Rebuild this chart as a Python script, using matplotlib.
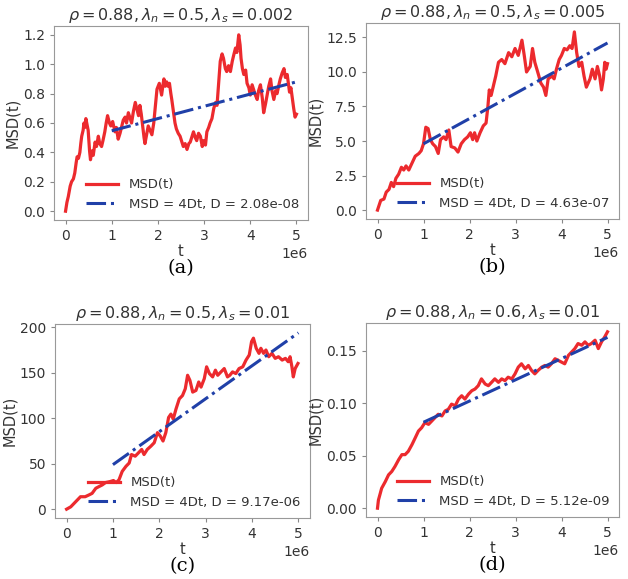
import matplotlib
matplotlib.use("Agg")
import matplotlib.pyplot as plt
from matplotlib.ticker import MultipleLocator

# Time axis in units of 1e6 steps, MSD values
t_a = [0, 0.03, 0.06, 0.10, 0.13, 0.17, 0.20, 0.23, 0.25, 0.28,
       0.31, 0.33, 0.35, 0.38, 0.40, 0.42, 0.44, 0.47, 0.49, 0.52,
       0.54, 0.57, 0.60, 0.64, 0.67, 0.71, 0.74, 0.78, 0.81, 0.85,
       0.88, 0.91, 0.95, 0.98, 1.02, 1.07, 1.10, 1.14, 1.18, 1.22,
       1.25, 1.29, 1.32, 1.36, 1.40, 1.43, 1.47, 1.51, 1.55, 1.58,
       1.61, 1.64, 1.67, 1.70, 1.72, 1.76, 1.79, 1.83, 1.87, 1.91,
       1.94, 1.98, 2.03, 2.06, 2.08, 2.11, 2.13, 2.16, 2.19, 2.22,
       2.25, 2.28, 2.30, 2.34, 2.37, 2.40, 2.44, 2.48, 2.52, 2.55,
       2.59, 2.63, 2.67, 2.70, 2.74, 2.77, 2.81, 2.84, 2.88, 2.92,
       2.96, 2.99, 3.03, 3.06, 3.10, 3.13, 3.17, 3.21, 3.25, 3.28,
       3.31, 3.35, 3.39, 3.42, 3.46, 3.49, 3.53, 3.57, 3.61, 3.64,
       3.68, 3.71, 3.75, 3.78, 3.80, 3.83, 3.86, 3.90, 3.93, 3.97,
       4.00, 4.04, 4.07, 4.11, 4.15, 4.18, 4.22, 4.26, 4.29, 4.33,
       4.36, 4.40, 4.44, 4.47, 4.51, 4.55, 4.58, 4.62, 4.65, 4.69,
       4.73, 4.76, 4.80, 4.83, 4.85, 4.88, 4.91, 4.94, 4.97, 5.00]
msd_a = [0, 0.06, 0.10, 0.17, 0.20, 0.22, 0.26, 0.33, 0.37, 0.36,
         0.40, 0.46, 0.51, 0.55, 0.60, 0.57, 0.63, 0.58, 0.55, 0.41,
         0.35, 0.41, 0.38, 0.47, 0.44, 0.51, 0.46, 0.44, 0.48, 0.54,
         0.60, 0.65, 0.60, 0.58, 0.61, 0.54, 0.57, 0.49, 0.53, 0.58,
         0.62, 0.64, 0.60, 0.67, 0.63, 0.60, 0.68, 0.74, 0.69, 0.65,
         0.72, 0.66, 0.58, 0.50, 0.46, 0.53, 0.58, 0.55, 0.52, 0.60,
         0.70, 0.83, 0.87, 0.82, 0.79, 0.86, 0.90, 0.85, 0.88, 0.85,
         0.87, 0.80, 0.76, 0.67, 0.60, 0.56, 0.53, 0.51, 0.47, 0.44,
         0.46, 0.42, 0.46, 0.47, 0.51, 0.54, 0.50, 0.48, 0.53, 0.51,
         0.44, 0.48, 0.45, 0.54, 0.57, 0.60, 0.63, 0.70, 0.74, 0.72,
         0.85, 1.02, 1.07, 1.04, 0.97, 0.95, 0.99, 0.95, 1.02, 1.06,
         1.11, 1.08, 1.20, 1.13, 1.04, 0.97, 0.93, 0.96, 0.87, 0.84,
         0.79, 0.86, 0.83, 0.79, 0.76, 0.82, 0.86, 0.77, 0.67, 0.73,
         0.78, 0.85, 0.90, 0.82, 0.76, 0.82, 0.80, 0.86, 0.90, 0.94,
         0.97, 0.91, 0.93, 0.86, 0.81, 0.84, 0.77, 0.70, 0.64, 0.66]

t_b = [0, 0.07, 0.14, 0.19, 0.25, 0.30, 0.35, 0.40, 0.46, 0.52, 0.57, 0.62, 0.68, 0.75, 0.82,
       0.90, 0.95, 1.00, 1.05, 1.10, 1.15, 1.20, 1.26, 1.32, 1.37, 1.44, 1.49, 1.55, 1.60, 1.68,
       1.75, 1.82, 1.89, 1.96, 2.02, 2.07, 2.11, 2.16, 2.23, 2.30, 2.36, 2.40, 2.43, 2.47, 2.52,
       2.57, 2.63, 2.70, 2.77, 2.85, 2.92, 2.99, 3.06, 3.14, 3.19, 3.24, 3.32, 3.37, 3.42, 3.50,
       3.55, 3.61, 3.66, 3.71, 3.79, 3.84, 3.89, 3.95, 4.00, 4.06, 4.12, 4.18, 4.23, 4.28, 4.33,
       4.38, 4.44, 4.49, 4.54, 4.62, 4.67, 4.73, 4.78, 4.83, 4.87, 4.91, 4.94, 4.97, 5.00]
msd_b = [0, 0.7, 0.8, 1.3, 1.5, 2.0, 1.7, 2.3, 2.6, 3.1, 2.9, 3.2, 2.9, 3.4, 3.9,
         4.1, 4.3, 4.8, 6.0, 5.9, 5.1, 4.8, 4.6, 4.1, 5.1, 5.3, 5.1, 5.8, 4.6, 4.5,
         4.2, 4.8, 5.1, 5.3, 5.6, 5.1, 5.6, 5.0, 5.6, 6.1, 6.3, 7.5, 8.7, 8.3, 9.0,
         9.7, 10.7, 10.9, 10.6, 11.4, 11.1, 11.7, 11.2, 12.3, 11.2, 10.0, 10.4, 11.7, 10.7, 9.8,
         9.2, 8.9, 8.3, 9.5, 9.7, 9.5, 10.2, 10.9, 11.2, 11.7, 11.6, 11.9, 11.7, 12.9, 11.4,
         10.4, 10.7, 9.7, 8.9, 9.5, 10.2, 9.5, 10.4, 9.7, 8.7, 9.5, 10.7, 10.2, 10.6]

t_c = [0, 0.09, 0.16, 0.23, 0.30, 0.40, 0.48, 0.55, 0.63, 0.70, 0.77, 0.84, 0.94, 1.01, 1.07,
       1.13, 1.20, 1.28, 1.35, 1.40, 1.48, 1.55, 1.62, 1.67, 1.74, 1.82, 1.89, 1.96, 2.02, 2.08,
       2.14, 2.20, 2.25, 2.30, 2.36, 2.43, 2.50, 2.56, 2.61, 2.66, 2.72, 2.79, 2.85, 2.90, 2.97,
       3.02, 3.08, 3.15, 3.21, 3.26, 3.33, 3.40, 3.47, 3.52, 3.58, 3.65, 3.72, 3.80, 3.87, 3.94,
       3.99, 4.03, 4.09, 4.15, 4.19, 4.25, 4.30, 4.36, 4.43, 4.50, 4.57, 4.65, 4.72, 4.78, 4.82,
       4.86, 4.89, 4.93, 4.99]
msd_c = [0, 2.6, 6.3, 10, 13.7, 13.7, 15.6, 17.4, 23, 24.9, 26.7, 29.3, 30.4, 31.5, 29.3,
         32.3, 41.6, 47.1, 50.8, 60.1, 58.3, 62, 65.7, 60.1, 65.7, 69.4, 73.1, 84.2, 80.5, 75,
         84.2, 100.9, 104.6, 99.1, 110.2, 121.3, 125, 132.5, 147.3, 141.7, 128.8, 130.6, 139.9, 134.3, 143.6,
         156.6, 149.2, 145.5, 152.9, 147.3, 151, 154.7, 145.5, 147.3, 151, 149.2, 154.7, 156.6, 164, 169.6,
         184.4, 188.1, 177, 171.4, 177, 171.4, 175.1, 167.7, 171.4, 165.9, 167.7, 164, 165.9, 162.2, 167.7,
         156.6, 145.5, 154.7, 160.3]

t_d = [0, 0.02, 0.06, 0.09, 0.17, 0.24, 0.31, 0.38, 0.46, 0.53, 0.60, 0.67, 0.75, 0.82, 0.89,
       0.96, 1.03, 1.11, 1.18, 1.25, 1.32, 1.40, 1.47, 1.54, 1.61, 1.69, 1.76, 1.83, 1.90, 1.98,
       2.05, 2.12, 2.19, 2.26, 2.34, 2.41, 2.48, 2.55, 2.63, 2.70, 2.77, 2.84, 2.92, 2.99, 3.06,
       3.13, 3.21, 3.28, 3.35, 3.42, 3.49, 3.57, 3.64, 3.71, 3.78, 3.86, 3.93, 4.00, 4.07, 4.15,
       4.22, 4.29, 4.36, 4.44, 4.51, 4.58, 4.65, 4.73, 4.80, 4.87, 4.94, 5.00]
msd_d = [0, 0.0077, 0.0141, 0.019, 0.0254, 0.0318, 0.035, 0.0398, 0.0463, 0.0511, 0.0511, 0.0543, 0.0607, 0.0671, 0.0736,
         0.0768, 0.0816, 0.080, 0.0832, 0.0864, 0.0896, 0.088, 0.0928, 0.0944, 0.0993, 0.0977, 0.1041, 0.1073, 0.1041, 0.1089,
         0.1121, 0.1137, 0.1169, 0.1234, 0.1185, 0.1169, 0.1201, 0.1234, 0.1201, 0.1234, 0.1217, 0.125, 0.1234, 0.1282, 0.1346,
         0.1378, 0.133, 0.1362, 0.1314, 0.1282, 0.1314, 0.1346, 0.1362, 0.1346, 0.1378, 0.1426, 0.141, 0.1394, 0.1378, 0.1458,
         0.149, 0.1523, 0.1571, 0.1555, 0.1587, 0.1555, 0.1571, 0.1603, 0.1523, 0.1587, 0.1635, 0.1683]

# Linear fit lines (endpoints at t = 1e6 and 5e6)
fit_t = [1, 5]
fit_a = [0.547, 0.88]
fit_b = [4.8, 12.1]
fit_c = [49, 194]
fit_d = [0.082, 0.163]

rho = 0.88
lam_n = ['0.5', '0.5', '0.5', '0.6']
lam_s = ['0.002', '0.005', '0.01', '0.01']
d_labels = ['2.08e-08', '4.63e-07', '9.17e-06', '5.12e-09']
captions = ['(a)', '(b)', '(c)', '(d)']
ytick_steps = [0.2, 2.5, 50, 0.05]

series_t = [t_a, t_b, t_c, t_d]
series_msd = [msd_a, msd_b, msd_c, msd_d]
fits = [fit_a, fit_b, fit_c, fit_d]

# axes boxes in pixels: left, top, right, bottom
boxes = [(54, 26, 308, 220), (366, 23, 619, 219), (55, 324, 310, 518), (366, 323, 619, 517)]

W, H = 628, 579
fig = plt.figure(figsize=(W / 100, H / 100), dpi=100)

text_col = '#333333'
red = '#ec2a2e'
blue = '#2040a8'

for i in range(4):
    l, tp, r, b = boxes[i]
    ax = fig.add_axes([l / W, 1 - b / H, (r - l) / W, (b - tp) / H])
    ax.plot([v * 1e6 for v in series_t[i]], series_msd[i], color=red, lw=2.3, label='MSD(t)')
    ax.plot([v * 1e6 for v in fit_t], fits[i], color=blue, lw=2.2, linestyle='-.',
            label='MSD = 4Dt, D = ' + d_labels[i])
    ax.set_title(r'$\rho = %.2f, \lambda_n = %s, \lambda_s = %s$' % (rho, lam_n[i], lam_s[i]),
                 fontsize=11.5, color=text_col, pad=4)
    ax.yaxis.set_major_locator(MultipleLocator(ytick_steps[i]))
    ax.set_xlabel('t', fontsize=10.5, color=text_col, labelpad=1)
    ax.set_ylabel('MSD(t)', fontsize=10.5, color=text_col, labelpad=2)
    ax.tick_params(labelsize=10, colors=text_col, color='#888888', length=3)
    ax.xaxis.get_offset_text().set_fontsize(10)
    ax.xaxis.get_offset_text().set_color(text_col)
    for s in ax.spines.values():
        s.set_color('#999999')
    ax.legend(loc='lower right', frameon=False, fontsize=9.5, handlelength=2.4,
              labelcolor=text_col, borderaxespad=0.3)
    fig.text((l + r) / 2 / W, 1 - (b + 48) / H, captions[i], ha='center', va='center',
             fontsize=14, family='serif', math_fontfamily='cm')

fig.savefig('out.png', dpi=100)
